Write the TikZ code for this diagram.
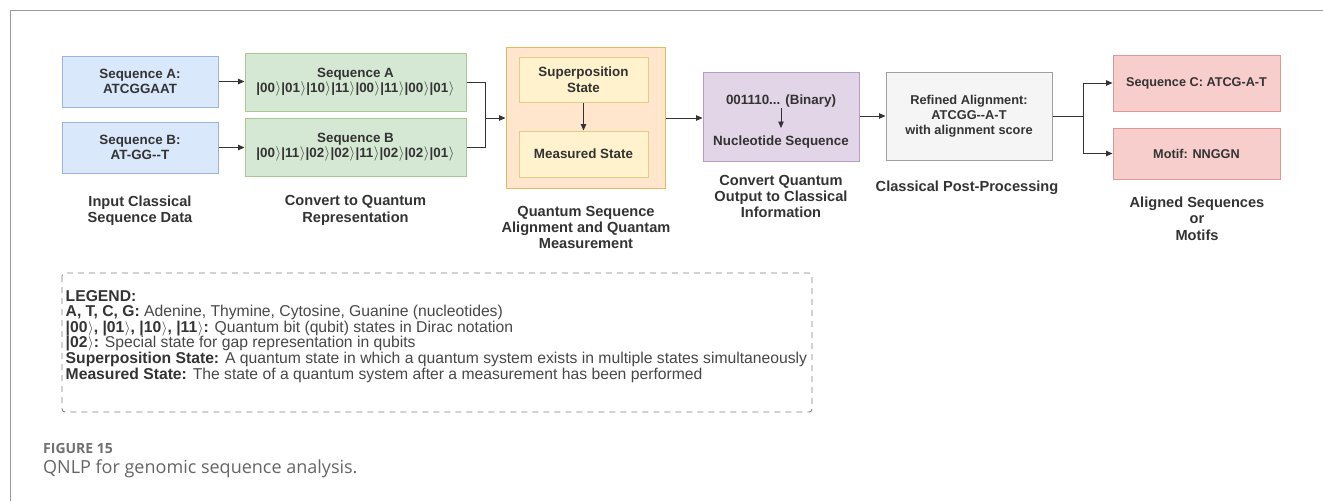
\documentclass[tikz,border=0pt]{standalone}
\usepackage{fontspec}
\setmainfont{Liberation Sans}
\newfontfamily\capfont{Open Sans}
\newfontfamily\legfont{Liberation Sans}
\usetikzlibrary{arrows.meta}
\definecolor{bluef}{HTML}{DAE8FC}\definecolor{blued}{HTML}{9DB4D8}
\definecolor{greenf}{HTML}{D5E8D4}\definecolor{greend}{HTML}{A6C994}
\definecolor{orangef}{HTML}{FFE6CC}\definecolor{oranged}{HTML}{E6B860}
\definecolor{yellowf}{HTML}{FFF2CC}\definecolor{yellowd}{HTML}{E3CC85}
\definecolor{purplef}{HTML}{E1D5E7}\definecolor{purpled}{HTML}{B49CC2}
\definecolor{grayf}{HTML}{F5F5F5}\definecolor{grayd}{HTML}{A0A0A0}
\definecolor{pinkf}{HTML}{F8CECC}\definecolor{pinkd}{HTML}{D99A98}
\definecolor{txt}{HTML}{333333}
\definecolor{legtxt}{HTML}{474747}
\definecolor{captxt}{HTML}{707070}
\newcommand{\kt}[1]{|#1\kern0.5pt$\rangle$\kern0.2pt}
\tikzset{
  box/.style={draw, line width=1pt, inner sep=0pt, align=center, text=txt,
    font=\fontsize{13.4}{15.5}\selectfont\bfseries},
  lbl/.style={align=center, text=txt, inner sep=0pt,
    font=\fontsize{14.6}{16.3}\selectfont\bfseries},
  conn/.style={draw=txt, line width=0.9pt},
  arr/.style={conn, -{Triangle[length=6.5pt,width=5.5pt]}},
}
\begin{document}
\begin{tikzpicture}[x=1pt,y=-1pt]
\useasboundingbox (0,0) rectangle (1323,501);
% page frame
\draw[color=gray!80, line width=1pt] (10,501) -- (10,10) -- (1323,10);

% input boxes
\node[box, fill=bluef, draw=blued, minimum width=156pt, minimum height=51pt] (seqA) at (140,81.5) {Sequence A:\\ATCGGAAT};
\node[box, fill=bluef, draw=blued, minimum width=156pt, minimum height=51pt] (seqB) at (140,147.5) {Sequence B:\\AT-GG-{}-T};
\node[lbl] (l1) at (140,210.5) {Input Classical\\Sequence Data};

% quantum representation
\node[box, fill=greenf, draw=greend, minimum width=221pt, minimum height=58pt] (qA) at (355.5,82) {Sequence A\\\kt{00}\kt{01}\kt{10}\kt{11}\kt{00}\kt{11}\kt{00}\kt{01}};
\node[box, fill=greenf, draw=greend, minimum width=221pt, minimum height=58pt] (qB) at (355.5,147) {Sequence B\\\kt{00}\kt{11}\kt{02}\kt{02}\kt{11}\kt{02}\kt{02}\kt{01}};
\node[lbl] (l2) at (355.5,210.5) {Convert to Quantum\\Representation};

% alignment
\node[box, fill=orangef, draw=oranged, minimum width=159pt, minimum height=141pt] (orange) at (585.5,117.5) {};
\node[box, fill=yellowf, draw=yellowd, minimum width=129pt, minimum height=45pt] (sup) at (583.5,79.5) {Superposition\\State};
\node[box, fill=yellowf, draw=yellowd, minimum width=129pt, minimum height=46pt] (meas) at (583.5,154) {Measured State};
\node[lbl] (l3) at (586,227.5) {Quantum Sequence\\Alignment and Quantam\\Measurement};

% convert output
\node[box, fill=purplef, draw=purpled, minimum width=156pt, minimum height=89pt] (purple) at (781,116.5) {};
\node[box, draw=none] (bin) at (781,101) {001110... (Binary)};
\node[box, draw=none] (nuc) at (781,142) {Nucleotide Sequence};
\node[lbl] (l4) at (781,196.5) {Convert Quantum\\Output to Classical\\Information};

% post-processing
\node[box, fill=grayf, draw=grayd, minimum width=166pt, minimum height=88pt,
  font=\fontsize{12.8}{15}\selectfont\bfseries] (post) at (969,116) {Refined Alignment:\\ATCGG-{}-A-T\\with alignment score};
\node[lbl] (l5) at (967,188) {Classical Post-Processing};

% results
\node[box, fill=pinkf, draw=pinkd, minimum width=167pt, minimum height=56pt, font=\fontsize{12.7}{14}\selectfont\bfseries] (pC) at (1196.5,83) {Sequence C: ATCG-A-T};
\node[box, fill=pinkf, draw=pinkd, minimum width=167pt, minimum height=51pt, font=\fontsize{12.7}{14}\selectfont\bfseries] (pM) at (1196.5,153.5) {Motif: NNGGN};
\node[lbl] (l6) at (1197,218.5) {Aligned Sequences\\or\\Motifs};

% connectors
\draw[arr] (seqA.east) -- (seqA.east -| qA.west);
\draw[arr] (seqB.east) -- (seqB.east -| qB.west);
\coordinate (j1) at (485,118);
\draw[conn] (qA.east) -| (j1);
\draw[conn] (qB.east) -| (j1);
\draw[arr] (j1) -- (j1 -| orange.west);
\draw[arr] (sup.south) -- (meas.north);
\draw[arr] (orange.east |- 0,118) coordinate (o1) -- (o1 -| purple.west);
\coordinate (b1) at (781,108);
\coordinate (b2) at (781,128);
\draw[arr] (b1) -- (b2);
\draw[arr] (purple.east |- 0,116) coordinate (p1) -- (p1 -| post.west);
\coordinate (j2) at (1083,116);
\draw[conn] (post.east |- j2) -- (j2);
\draw[arr] (j2) |- (pC.west);
\draw[arr] (j2) |- (pM.west);

% legend
\draw[gray, line width=0.9pt, dash pattern=on 6pt off 5pt, rounded corners=3pt] (62,273) rectangle (812,412);
\node[anchor=north west, align=left, inner sep=0pt, text=legtxt,
  font=\legfont\fontsize{15.7}{15.6}\selectfont] (leg) at (65.5,290) {%
\textcolor{txt}{\textbf{LEGEND:}}\\
\textcolor{txt}{\textbf{A, T, C, G:}} Adenine, Thymine, Cytosine, Guanine (nucleotides)\\
\textcolor{txt}{\textbf{\kt{00}, \kt{01}, \kt{10}, \kt{11}:}} Quantum bit (qubit) states in Dirac notation\\
\textcolor{txt}{\textbf{\kt{02}:}} Special state for gap representation in qubits\\
\textcolor{txt}{\textbf{Superposition State:}} A quantum state in which a quantum system exists in multiple states simultaneously\\
\textcolor{txt}{\textbf{Measured State:}} The state of a quantum system after a measurement has been performed};

% caption
\node[anchor=west, inner sep=0pt, text=captxt, font=\capfont\fontsize{14}{16}\selectfont\bfseries] (fig) at (43,448) {FIGURE 15};
\node[anchor=west, inner sep=0pt, text=captxt!90!black, font=\capfont\fontsize{18}{20}\selectfont] (cap) at (43,469) {QNLP for genomic sequence analysis.};
\end{tikzpicture}
\end{document}
